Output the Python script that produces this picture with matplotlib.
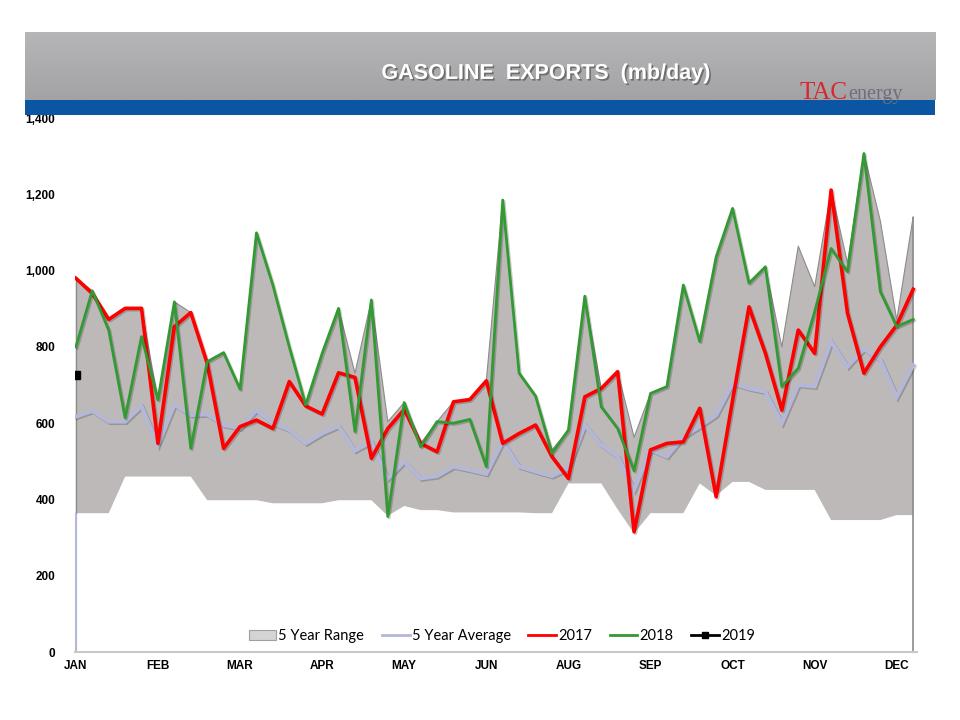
import matplotlib

matplotlib.use("Agg")

import matplotlib.pyplot as plt
import matplotlib.patheffects as pe
from matplotlib.colors import LinearSegmentedColormap
from matplotlib.lines import Line2D
from matplotlib.patches import Patch, Rectangle
from matplotlib.ticker import FuncFormatter
import numpy as np

# Weekly gasoline exports (mb/day)
MONTH_LABELS = ["JAN", "FEB", "MAR", "APR", "MAY", "JUN", "AUG", "SEP", "OCT", "NOV", "DEC"]

range_low = [364, 364, 364, 460, 460, 460, 460, 460, 398, 398, 398, 398, 390,
             390, 390, 390, 398, 398, 398, 357, 383, 372, 372, 366, 366, 366,
             366, 366, 364, 364, 442, 442, 442, 374, 311, 364, 364, 364, 442,
             410, 446, 446, 425, 425, 425, 425, 346, 346, 346, 346, 359, 359]
range_high = [980, 947, 872, 901, 901, 661, 918, 890, 761, 785, 689, 1099, 962,
              800, 648, 783, 901, 731, 923, 604, 654, 547, 604, 656, 662, 711,
              1185, 731, 671, 530, 582, 933, 691, 735, 563, 678, 696, 962, 814,
              1036, 1163, 967, 1010, 800, 1064, 958, 1211, 1020, 1307, 1130, 870, 1141]
five_year_avg = [617, 632, 604, 604, 645, 543, 648, 621, 623, 595, 586, 634, 600,
                 582, 547, 573, 592, 528, 551, 455, 499, 455, 461, 486, 477, 467,
                 552, 486, 473, 461, 482, 595, 543, 512, 425, 530, 512, 564, 591,
                 621, 704, 691, 682, 600, 700, 696, 814, 748, 794, 766, 669, 752]
exports_2017 = [980, 940, 872, 901, 901, 547, 853, 890, 757, 534, 591, 608, 586,
                709, 645, 624, 732, 720, 508, 586, 636, 547, 525, 656, 662, 711,
                547, 573, 595, 512, 455, 669, 691, 735, 315, 530, 547, 551, 639,
                407, 660, 905, 783, 634, 844, 783, 1211, 888, 731, 800, 857, 951]
exports_2018 = [800, 947, 844, 614, 827, 661, 918, 534, 761, 785, 689, 1099, 962,
                800, 648, 783, 901, 578, 923, 355, 654, 538, 604, 600, 610, 486,
                1185, 731, 671, 521, 582, 933, 643, 586, 475, 678, 696, 962, 814,
                1036, 1163, 967, 1010, 696, 744, 892, 1058, 997, 1307, 945, 853, 872]
exports_2019 = [725]

RANGE_COLOR = "#bdb9b9"
RANGE_EDGE = "#8c8a8a"
AVG_COLOR = "#b4b7d8"
RED = "#ff0000"
GREEN = "#339933"

weeks = np.arange(len(exports_2017))
month_ticks = weeks[::5][:len(MONTH_LABELS)]

fig = plt.figure(figsize=(9.6, 7.2), dpi=100)
fig.patch.set_facecolor("white")

# header band with soft gradient
band = fig.add_axes([0.026, 0.861, 0.948, 0.095])
gradient = np.linspace(0, 1, 64).reshape(-1, 1)
band_cmap = LinearSegmentedColormap.from_list("hdr", ["#b6b6b8", "#a3a3a5"])
band.imshow(gradient, aspect="auto", cmap=band_cmap, extent=[0, 1, 0, 1])
band.axis("off")
fig.add_artist(Rectangle((0.026, 0.840), 0.948, 0.021, transform=fig.transFigure,
                         facecolor="#0a56a3", edgecolor="none"))

fig.text(0.568, 0.898, "GASOLINE  EXPORTS  (mb/day)", ha="center", va="center",
         color="white", fontsize=15.5, fontweight="bold", family="Liberation Sans",
         path_effects=[pe.withSimplePatchShadow(offset=(1.2, -1.2),
                                                shadow_rgbFace="#555555", alpha=0.7)])
fig.text(0.833, 0.863, "TAC", ha="left", va="baseline", color="#d7282f",
         fontsize=18, family="Liberation Serif")
fig.text(0.884, 0.863, "energy", ha="left", va="baseline", color="#6e6e7e",
         fontsize=14.5, family="Liberation Serif")

ax = fig.add_axes([0.078, 0.0944, 0.877, 0.7417])

shadow = [pe.SimpleLineShadow(offset=(1.0, -1.0), shadow_color="black", alpha=0.2),
          pe.Normal()]

ax.fill_between(weeks, range_low, range_high, facecolor=RANGE_COLOR,
                edgecolor="none", zorder=1)
ax.plot(weeks, range_high, color=RANGE_EDGE, lw=0.8, zorder=1.5)
ax.vlines(weeks[0], 0, range_low[0], color=AVG_COLOR, lw=1.6, zorder=1.5)
ax.vlines(weeks[0], range_low[0], range_high[0], color=RANGE_EDGE, lw=1.0, zorder=1.5)
ax.vlines(weeks[-1], 0, range_high[-1], color=RANGE_EDGE, lw=1.2, zorder=1.5)

ax.plot(weeks, five_year_avg, color=AVG_COLOR, lw=2.8, zorder=2,
        solid_joinstyle="miter", path_effects=shadow)
ax.plot(weeks, exports_2017, color=RED, lw=2.6, zorder=3, path_effects=shadow)
ax.plot(weeks, exports_2018, color=GREEN, lw=2.0, zorder=4, path_effects=shadow)
ax.plot(weeks[:len(exports_2019)], exports_2019, color="black", lw=2,
        marker="s", markersize=5.5, zorder=5)

ax.set_xlim(-0.06, 51.22)
ax.set_ylim(0, 1400)
ax.set_yticks(np.arange(0, 1401, 200))
ax.yaxis.set_major_formatter(FuncFormatter(lambda v, _: f"{int(v):,}"))
ax.set_xticks(month_ticks)
ax.set_xticklabels(MONTH_LABELS)
ax.tick_params(axis="both", length=0, labelsize=8.5)
ax.tick_params(axis="y", pad=14)
ax.tick_params(axis="x", pad=6)
for label in ax.get_xticklabels() + ax.get_yticklabels():
    label.set_fontweight("bold")
    label.set_family("Liberation Sans")

for side in ("top", "right", "left"):
    ax.spines[side].set_visible(False)
ax.spines["bottom"].set_color("#c8c8c8")
ax.spines["bottom"].set_linewidth(1.5)

handles = [
    Patch(facecolor="#d4d4d4", edgecolor="#a0a0a0", linewidth=0.8),
    Line2D([], [], color=AVG_COLOR, lw=2),
    Line2D([], [], color=RED, lw=2),
    Line2D([], [], color=GREEN, lw=2),
    Line2D([], [], color="black", lw=2, marker="s", markersize=5),
]
labels = ["5 Year Range", "5 Year Average", "2017", "2018", "2019"]
ax.legend(handles, labels, loc="center", bbox_to_anchor=(0.507, 0.03), ncol=5,
          frameon=False, prop={"family": "Lato", "size": 10.5},
          handlelength=1.9, handletextpad=0.15, columnspacing=1.2,
          handleheight=0.6)

fig.savefig("out.png", dpi=100)
